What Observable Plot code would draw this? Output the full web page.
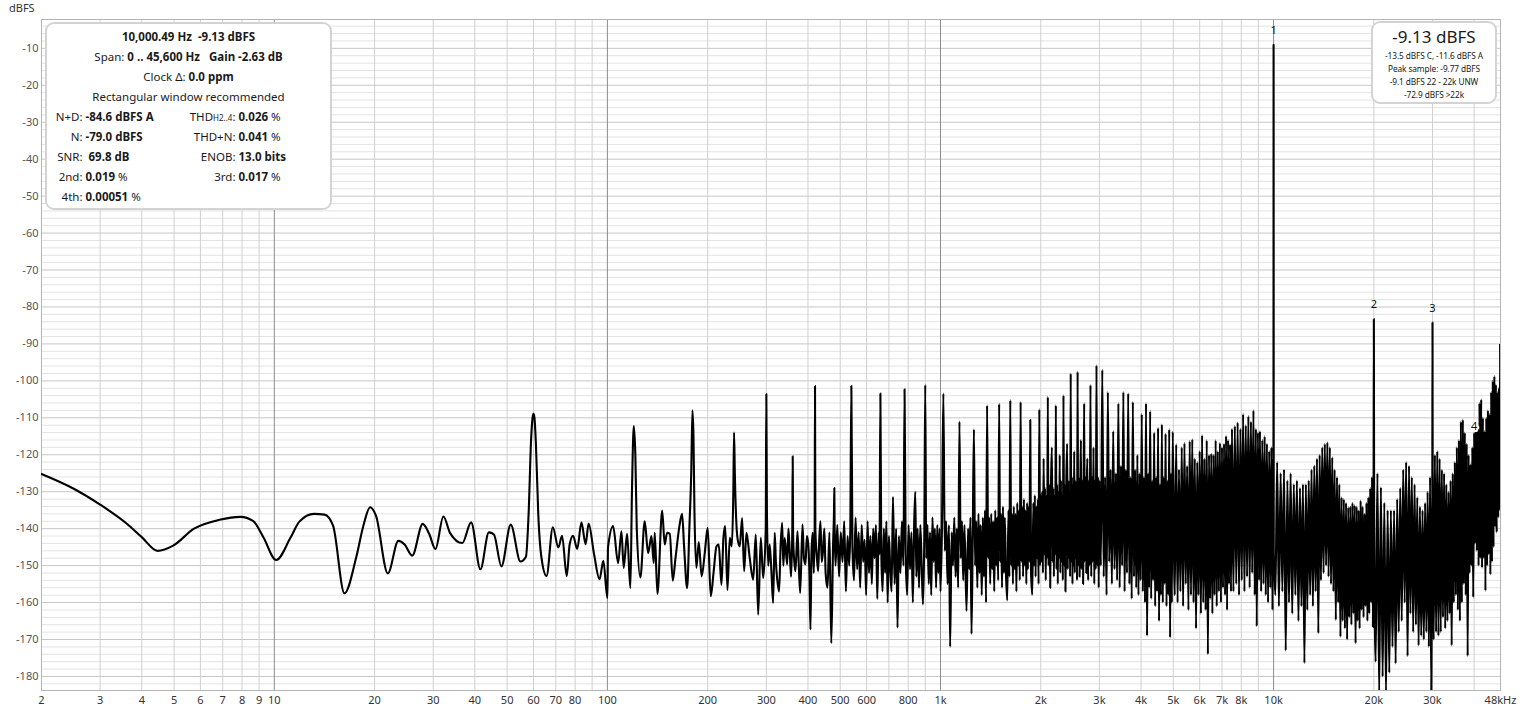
<!DOCTYPE html>
<html><head><meta charset="utf-8">
<script src="https://cdn.jsdelivr.net/npm/d3@7"></script>
<script src="https://cdn.jsdelivr.net/npm/@observablehq/plot@0.6"></script>
<style>
body{margin:0;background:#fff;font-family:"Noto Sans",sans-serif;}
#wrap{position:relative;width:1520px;height:714px;overflow:hidden}
#unit{position:absolute;left:9px;top:0px;font-size:11px;color:#333;line-height:16px}
.box{position:absolute;background:#fff;border:2.5px solid #d3d3d3;border-radius:9px;box-sizing:border-box;color:#1a1a1a}
#info{left:45px;top:22px;width:287px;height:188px;font-size:11.5px;padding-top:2.5px}
#info .c{text-align:center;height:20px;line-height:20px;white-space:nowrap}
#info .r{position:relative;height:20px;line-height:20px}
.l1{position:absolute;right:calc(100% - 35.5px);white-space:nowrap}
.v1{position:absolute;left:38.5px;white-space:nowrap}
.l2{position:absolute;right:calc(100% - 188.5px);white-space:nowrap}
.v2{position:absolute;left:191.5px;white-space:nowrap}
.sm{font-size:8px}
#level{left:1371px;top:21px;width:126px;height:83px;text-align:center;padding-top:2px}
#level .big{font-size:17px;line-height:24px;height:24px}
#level .s{font-size:8.3px;line-height:13px;height:13px;white-space:nowrap;letter-spacing:-0.1px}
#level .gap{height:0px}
</style></head>
<body><div id="wrap">
<div id="chart"></div>
<div id="unit">dBFS</div>
<div class="box" id="info">
  <div class="c"><b>10,000.49 Hz&nbsp; -9.13 dBFS</b></div>
  <div class="c">Span: <b>0 .. 45,600 Hz</b>&nbsp;&nbsp; <b>Gain -2.63 dB</b></div>
  <div class="c">Clock Δ: <b>0.0 ppm</b></div>
  <div class="c">Rectangular window recommended</div>
  <div class="r"><span class="l1">N+D:</span><span class="v1"><b>-84.6 dBFS A</b></span><span class="l2">THD<span class="sm">H2..4</span>:</span><span class="v2"><b>0.026</b> %</span></div>
  <div class="r"><span class="l1">N:</span><span class="v1"><b>-79.0 dBFS</b></span><span class="l2">THD+N:</span><span class="v2"><b>0.041</b> %</span></div>
  <div class="r"><span class="l1">SNR:</span><span class="v1">&nbsp;<b>69.8 dB</b></span><span class="l2">ENOB:</span><span class="v2"><b>13.0 bits</b></span></div>
  <div class="r"><span class="l1">2nd:</span><span class="v1"><b>0.019</b> %</span><span class="l2">3rd:</span><span class="v2"><b>0.017</b> %</span></div>
  <div class="r"><span class="l1">4th:</span><span class="v1"><b>0.00051</b> %</span></div>
</div>
<div class="box" id="level">
  <div class="big">-9.13 dBFS</div>
  <div class="gap"></div>
  <div class="s">-13.5 dBFS C, -11.6 dBFS A</div>
  <div class="s">Peak sample: -9.77 dBFS</div>
  <div class="s">-9.1 dBFS 22 - 22k UNW</div>
  <div class="s">-72.9 dBFS &gt;22k</div>
</div>
</div>
<script>
// ---- data: [frequency Hz, level dBFS] ----
const subsonicBand = [[2,-125.2],[2.5,-129.2],[3,-133.5],[3.6,-138.6],[4,-142.3],[4.46,-146],[4.97,-144.6],[5.74,-140],[6.84,-137.6],[7.92,-136.8],[8.63,-137.9],[9.28,-142.4],[10.13,-148.5],[11.19,-142.4],[11.89,-138.1],[13.16,-136],[14.15,-136.2],[15.01,-139.2],[16.24,-157.5],[17.61,-147.8],[18.51,-139.2],[19.39,-134.2],[20.19,-136.5],[21.92,-152.1],[23.57,-143.3],[24.62,-144.3],[25.94,-147.3],[27.9,-138.7],[29.16,-141.4],[30.46,-145.5],[32.18,-136.7],[33.71,-141.2],[36.68,-143.9],[38.98,-138.3],[41.57,-151],[44.06,-141],[45.64,-141.6],[48.06,-150.2],[51.26,-138.9],[54.82,-148.9],[56.94,-147.6],[58,-136],[59,-116],[59.6,-110],[60,-108.9],[60.4,-110],[61,-117],[62,-136],[63.38,-147.8],[65.66,-152.8],[68.57,-139.6],[71.24,-145.1],[73.08,-141.9],[75.49,-152.8],[77.02,-144.3],[78.85,-141.9],[81.17,-145.5],[83.56,-138.3],[86.02,-144.2],[87.82,-138.6],[91.18,-146.9],[94.7,-153.7],[97.23,-148.7]];
const humBand = [[100,-158.8],[100.4,-145.2],[104,-139.3],[107.7,-149.3],[110.2,-140.7],[111.9,-150.6],[114.6,-141.4],[117.2,-156.1],[118.5,-130],[120,-112.2],[121.3,-120],[122.5,-140],[125.6,-153.2],[129.4,-138],[132.5,-146.6],[135.6,-142],[137.7,-149.3],[138.7,-141.1],[141.3,-157.7],[146,-135.1],[148.6,-144.3],[151.1,-141.1],[153.9,-141.4],[157.1,-154.1],[160.1,-148],[164.5,-139.3],[167.6,-136],[169.9,-144.8],[173.5,-156.1],[176.3,-139.3],[178.5,-125],[180,-108],[181.3,-115],[182.5,-135],[185,-150.6],[188,-143.6],[191.9,-152.9],[196,-146.6],[200,-139.8],[204.3,-158.3],[208.5,-151.5],[212.5,-144.8],[215.9,-144.3],[220,-155.2],[223,-142.5],[225.7,-139.3],[229.3,-156.6],[233,-142.5],[236.2,-144.8],[238.8,-130],[240,-114],[241.3,-125],[245.7,-142.5],[249.6,-144.8],[253.8,-137.1],[257.3,-151.5],[261.5,-141.1],[267.5,-148],[273.9,-153.8],[278.9,-141.6],[283.6,-163.3],[288.7,-142.5],[293.5,-153.4],[298.8,-140],[300,-103.6],[301.2,-135],[304,-150],[307,-144.3],[310.7,-151.5],[314.4,-160.1],[317.9,-141.1],[320.5,-149],[323.2,-153.4],[327.7,-157],[331,-145],[334.6,-138.4],[337.5,-150],[340.7,-142.5],[346.4,-149.7],[349.5,-140],[352.7,-146.1],[356,-153],[359,-140],[360,-120.4],[361,-142],[364,-149],[366.9,-151.5],[372.1,-140.7],[375.5,-150],[379.1,-157.4],[385.2,-138.9],[389,-148],[393.2,-149.7],[397,-142],[400.6,-143.9],[404,-152],[407,-167.3],[410,-146],[413.5,-141.1],[416.5,-152],[419,-140],[420,-101.4],[421,-140],[425,-147],[429.2,-151.5],[432.5,-143],[436.1,-138]];
const midBand = [[440,-149],[444,-146],[448,-140],[452,-152],[458,-156],[464,-141],[470,-171],[476,-144],[479,-135],[480,-129],[481,-140],[484,-150],[490,-139],[496,-153],[502,-141],[508,-149],[514,-138],[520,-157],[526,-142],[532,-150],[536,-140],[540,-101.4],[544,-145],[550,-154],[556,-137],[562,-151],[568,-141],[574,-156],[580,-139],[586,-149],[592,-143],[598,-158],[604,-138],[610,-152],[616,-142],[622,-155],[628,-140],[634,-148],[640,-139],[646,-159],[652,-141],[656,-147],[660,-103.4],[664,-146],[670,-157],[676,-140],[682,-152],[688,-138],[694,-160],[700,-142],[706,-150],[713,-157],[720,-131.4],[728,-155],[736,-140],[743,-166.8],[750,-142],[758,-152],[766,-138],[774,-150],[780,-102.3],[786,-147],[794,-158],[802,-139],[810,-151],[818,-141],[826,-160],[834,-138],[840,-130],[846,-153],[854,-140],[862,-156],[870,-139],[878,-150],[886,-160.5],[894,-142],[900,-101.1],[906,-148],[914,-139],[922,-155],[930,-141],[938,-158],[946,-137],[954,-149],[962,-140],[970,-156],[978,-139],[986,-152],[994,-140],[1000,-157]];
const upperMidBand = [[1010,-140],[1020,-103.4],[1030,-146],[1040,-138],[1050,-155],[1060,-139],[1069,-172],[1080,-141],[1090,-150],[1100,-137],[1110,-153],[1120,-140],[1130,-156],[1140,-111],[1150,-148],[1160,-138],[1170,-154],[1180,-139],[1197,-162.3],[1210,-140],[1220,-151],[1230,-137],[1239,-168.5],[1250,-141],[1260,-113.1],[1270,-150],[1280,-138],[1290,-156],[1300,-136],[1310,-152],[1320,-139],[1330,-158],[1340,-137],[1350,-153],[1360,-135],[1370,-160],[1380,-106.6],[1390,-148],[1400,-137],[1410,-155],[1420,-136],[1430,-151],[1440,-138],[1450,-157],[1460,-135],[1470,-150],[1480,-137],[1490,-154],[1500,-106.2],[1510,-149],[1520,-136],[1530,-156],[1540,-134],[1550,-152],[1560,-137],[1570,-150],[1586,-159.4],[1600,-135],[1610,-153],[1620,-105.2],[1630,-150],[1640,-136],[1650,-155],[1660,-134],[1670,-151],[1680,-136],[1690,-157],[1700,-133],[1710,-150],[1720,-135],[1730,-154],[1740,-105.7],[1750,-149],[1760,-134],[1770,-153],[1780,-132],[1790,-150],[1800,-135],[1810,-155],[1820,-133],[1830,-151],[1840,-134],[1850,-149],[1860,-110.6],[1870,-152],[1886,-157.9],[1900,-133],[1910,-150],[1920,-131],[1930,-153],[1940,-134],[1950,-148],[1960,-132],[1970,-155],[1980,-107.7],[1990,-150],[2000,-131],
[2010,-149],[2020,-130],[2030,-152],[2040,-121],[2050,-147],[2060,-129],[2070,-154],[2080,-131],[2090,-148],[2100,-104.3],[2110,-150],[2120,-128],[2135,-156],[2145,-130],[2160,-118],[2170,-149],[2180,-129],[2190,-153],[2200,-131],[2210,-147],[2220,-106.6],[2230,-151],[2240,-128],[2250,-155],[2260,-130],[2270,-148],[2280,-120],[2290,-152],[2300,-127],[2310,-149],[2320,-131],[2330,-154],[2340,-103.9],[2350,-150],[2360,-128],[2372,-157],[2385,-129],[2400,-117],[2410,-151],[2420,-127],[2430,-148],[2440,-130],[2450,-153],[2460,-98],[2470,-149],[2480,-126],[2490,-155],[2500,-128],[2510,-150],[2520,-119],[2530,-152],[2540,-127],[2550,-148],[2560,-129],[2570,-154],[2580,-97.5],[2590,-150],[2600,-126],[2615,-153],[2630,-128],[2640,-116],[2650,-151],[2665,-127],[2680,-155],[2690,-129],[2700,-106.1],[2710,-149],[2725,-126],[2740,-152],[2750,-128],[2760,-121],[2775,-154],[2790,-127],[2805,-150],[2820,-101.1],[2835,-153],[2850,-126],[2865,-149],[2880,-118],[2895,-155],[2910,-127],[2925,-151],[2940,-95.8],[2955,-150],[2970,-126],[2985,-156],[3000,-127]];
const trebleBand = [[3030,-150],[3060,-97],[3090,-153],[3120,-126],[3152,-158],[3180,-103],[3210,-149],[3240,-124],[3270,-155],[3300,-113.6],[3330,-151],[3360,-125],[3390,-154],[3420,-106.1],[3450,-156],[3480,-123],[3510,-150],[3540,-103],[3570,-157],[3600,-124],[3630,-152],[3660,-103.4],[3690,-155],[3720,-126],[3750,-159],[3780,-105.7],[3810,-153],[3840,-124],[3870,-156],[3900,-120],[3930,-158],[3960,-125],[3990,-154],[4020,-109],[4050,-157],[4080,-126],[4110,-160],[4140,-106.1],[4170,-169],[4200,-125],[4230,-156],[4260,-108.2],[4290,-159],[4320,-127],[4350,-154],[4380,-114],[4410,-161],[4440,-126],[4470,-157],[4500,-112.7],[4530,-165],[4560,-128],[4590,-158],[4620,-111.8],[4650,-160],[4680,-126],[4710,-155],[4740,-114.3],[4770,-161],[4800,-127],[4830,-158],[4860,-113.1],[4890,-169.5],[4920,-125],[4950,-160],[4980,-113.8],
[5050,-158],[5100,-117.2],[5150,-160],[5200,-124],[5250,-157],[5300,-118],[5350,-161],[5400,-116.8],[5450,-155],[5500,-123],[5550,-162],[5600,-116.3],[5650,-158],[5700,-115.8],[5750,-160],[5800,-121],[5850,-167],[5900,-122],[5950,-158],[6000,-119],[6050,-163],[6100,-114.7],[6150,-160],[6200,-121],[6250,-162],[6300,-116.1],[6350,-174],[6400,-120],[6450,-159],[6500,-119.7],[6550,-163],[6600,-120],[6650,-158],[6700,-116.1],[6750,-161],[6800,-119],[6850,-157],[6900,-116.8],[6950,-160],[7000,-118],[7050,-156],[7100,-117],[7150,-158],[7200,-114.9],[7250,-162],[7300,-116],[7350,-155],[7400,-117.2],[7450,-157],[7500,-113],
[7575,-157],[7650,-112.2],[7725,-155],[7800,-111.3],[7875,-158],[7950,-113],[8025,-154],[8100,-109],[8175,-157],[8250,-112],[8325,-153],[8400,-109.5],[8475,-156],[8550,-111],[8625,-152],[8700,-108],[8775,-158],[8850,-113],[8900,-166.4],[8975,-114],[9050,-154],[9100,-113.6],[9175,-157],[9250,-116],[9325,-155],[9400,-115],[9475,-158],[9550,-117],[9625,-160],[9700,-119],[9775,-156],[9850,-118],[9925,-162],[9960,-121],[9990,-150],[10000,-9.13],[10010,-146]];
const ultrasonicBand = [[10125,-158],[10250,-122],[10375,-161],[10500,-125],[10625,-157],[10750,-124],[10875,-173],[11000,-127],[11125,-160],[11250,-125],[11375,-163],[11500,-128],[11625,-158],[11750,-127],[11875,-165],[12000,-129],[12125,-161],[12250,-128],[12375,-176.4],[12500,-128],[12625,-162],[12750,-127],[12875,-158],[13000,-124],[13125,-161],[13250,-122.9],[13375,-157],[13500,-121],[13625,-168.3],[13750,-120],[13875,-154],[14000,-118],[14125,-152],[14250,-117],[14375,-150],[14500,-116.6],[14625,-153],[14750,-118],[14875,-155],[15000,-120.7],[15125,-157],[15250,-124],[15375,-164.7],[15500,-126],[15625,-160],[15750,-128],[15875,-169.3],[16000,-131.5],[16125,-165],[16250,-132],[16375,-167],[16500,-133],[16625,-170],[16750,-134.2],[16875,-164],[17000,-134],[17125,-166],[17250,-133],[17375,-163],[17500,-133.7],[17625,-171],[17750,-134],[17875,-165],[18000,-135],[18125,-167],[18250,-132.4],[18375,-162],[18500,-134],[18625,-164],[18750,-136],[18875,-161],[19000,-133],[19125,-165],[19250,-131.5],[19375,-163],[19500,-129],[19625,-160],[19750,-126],[19875,-166.6],[19960,-135],[20000,-83.3],[20040,-138],
[20250,-176],[20500,-125],[20750,-185],[21000,-128.8],[21250,-180],[21500,-133],[21750,-185],[22000,-135],[22250,-179],[22500,-135],[22750,-172],[23000,-135],[23250,-176.5],[23500,-132],[23750,-168],[24000,-129],[24250,-165],[24500,-124],[24750,-160],[25000,-122],[25250,-174.5],[25500,-123],[25750,-163],[26000,-126],[26250,-168],[26500,-128],[26750,-166],[27000,-131.5],[27250,-171.6],[27500,-134],[27750,-169],[28000,-135],[28250,-170],[28500,-133],[28750,-168],[29000,-130],[29250,-172],[29500,-126],[29750,-185],[29960,-132],[30000,-84.2],[30040,-136],[30250,-170],[30500,-120],[30750,-168],[31000,-119],[31250,-169],[31500,-121],[31750,-168],[32000,-124],[32250,-164],[32500,-125],[32750,-167],[33000,-128],[33250,-165],[33500,-130],[33750,-163],[34000,-127],[34250,-171.6],[34500,-125],[34750,-160],[35000,-122],[35250,-158],[35500,-118],[35750,-162],[36000,-116],[36250,-165],[36500,-111],[36750,-160],[37000,-110.5],[37250,-155],[37500,-114],[37750,-158],[38000,-117],[38250,-174.5],[38500,-120],[38750,-152],[39000,-122.6],[39250,-150],[39500,-118],[39750,-158.6],[40000,-114],[40250,-144],[40500,-112],[40750,-146],[41000,-112.7],[41250,-150],[41500,-106],[41750,-148],[42000,-105],[42250,-150.6],[42500,-110],[42750,-148],[43000,-113.6],[43250,-156.8],[43500,-110],[43750,-150],[44000,-108],[44250,-147],[44500,-109],[44750,-152.4],[45000,-103],[45250,-149],[45500,-100],[45750,-145],[46000,-98.7],[46250,-139.5],[46500,-101],[46750,-141],[47000,-103],[47250,-137],[47500,-101.9],[47750,-135],[47875,-90],[48000,-127]];

const peakNames = ["1","2","3"];
const peakFreqs = [10000, 20000, 30000];
const peakLevels = [-9.13, -83.5, -84.5];
const fourthName = ["4"];
const fourthFreq = [40000];
const fourthLevel = [-115.0];

const yTicks = [-10,-20,-30,-40,-50,-60,-70,-80,-90,-100,-110,-120,-130,-140,-150,-160,-170,-180];
const xGrid = [3,4,5,6,7,8,9,20,30,40,50,60,70,80,90,200,300,400,500,600,700,800,900,2000,3000,4000,5000,6000,7000,8000,9000,20000,30000,40000];
const decades = [10,100,1000,10000];
const xLabelFreqs = [2,3,4,5,6,7,8,9,10,20,30,40,50,60,70,80,100,200,300,400,500,600,800,1000,2000,3000,4000,5000,6000,7000,8000,10000,20000,30000,48000];
const xLabelTexts = ["2","3","4","5","6","7","8","9","10","20","30","40","50","60","70","80","100","200","300","400","500","600","800","1k","2k","3k","4k","5k","6k","7k","8k","10k","20k","30k","48kHz"];

const spectrum = [...subsonicBand, ...humBand, ...midBand, ...upperMidBand, ...trebleBand, ...ultrasonicBand];
const minorY = d3.range(-182, -2, 2).filter(v => v % 10 !== 0);
const xLabels = xLabelFreqs.map((f, i) => ({f, t: xLabelTexts[i]}));
const peaks = peakFreqs.map((f, i) => ({f, v: peakLevels[i], t: peakNames[i]}));
const fourth = fourthFreq.map((f, i) => ({f, v: fourthLevel[i], t: fourthName[i]}));

const chart = Plot.plot({
  width: 1520, height: 714,
  marginLeft: 41, marginRight: 20, marginTop: 19, marginBottom: 24,
  style: {fontFamily: "'Noto Sans', sans-serif", background: "#fff"},
  x: {type: "log", domain: [2, 48000], axis: null},
  y: {domain: [-183.8, -2.2], axis: null},
  marks: [
    Plot.ruleY(minorY, {stroke: "#e3e3e3", strokeWidth: 1}),
    Plot.ruleY(yTicks, {stroke: "#c6c6c6", strokeWidth: 1}),
    Plot.ruleX(xGrid, {stroke: "#d0d0d0", strokeWidth: 1}),
    Plot.ruleX(decades, {stroke: "#8c8c8c", strokeWidth: 1}),
    Plot.frame({stroke: "#b4b4b4"}),
    Plot.line(spectrum, {x: d => d[0], y: d => d[1], stroke: "#000", strokeWidth: 2.1, curve: "monotone-x", clip: true}),
    Plot.text(peaks, {x: "f", y: "v", text: "t", dy: -15, fontSize: 11, fill: "#111"}),
    Plot.text(fourth, {x: "f", y: "v", text: "t", dy: -10, fontSize: 11, fill: "#111", stroke: "#fff", strokeWidth: 4, paintOrder: "stroke"}),
    Plot.text(yTicks, {y: d => d, text: d => String(d), frameAnchor: "left", dx: -3, textAnchor: "end", fontSize: 11, fill: "#555"}),
    Plot.text(xLabels, {x: "f", text: "t", frameAnchor: "bottom", dy: 13, fontSize: 11, fill: "#333"})
  ]
});
document.getElementById("chart").appendChild(chart);
</script>
</body></html>
